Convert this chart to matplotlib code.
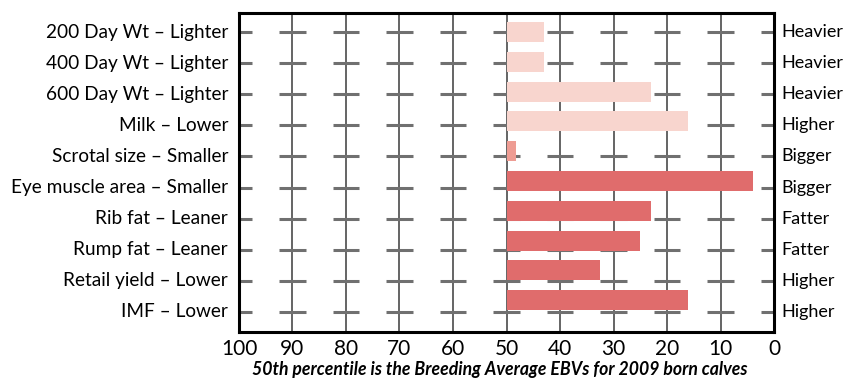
import matplotlib
matplotlib.use("Agg")
import matplotlib.pyplot as plt
import numpy as np

plt.rcParams['font.family'] = ['Lato', 'DejaVu Sans']

traits_left = ["200 Day Wt – Lighter", "400 Day Wt – Lighter", "600 Day Wt – Lighter",
               "Milk – Lower", "Scrotal size – Smaller", "Eye muscle area – Smaller",
               "Rib fat – Leaner", "Rump fat – Leaner", "Retail yield – Lower", "IMF – Lower"]
traits_right = ["Heavier", "Heavier", "Heavier", "Higher", "Bigger", "Bigger",
                "Fatter", "Fatter", "Higher", "Higher"]
percentile = [43, 43, 23, 16, 48.3, 4, 23, 25, 32.5, 16]
bar_colors = ["#F8D5CE", "#F8D5CE", "#F8D5CE", "#F8D5CE", "#EE9C93",
              "#E06C6C", "#E06C6C", "#E06C6C", "#E06C6C", "#E06C6C"]
xticks = [100, 90, 80, 70, 60, 50, 40, 30, 20, 10, 0]
baseline = 50
caption = "50th percentile is the Breeding Average EBVs for 2009 born calves"

W, H = 846, 381
fig = plt.figure(figsize=(W / 100, H / 100), dpi=100)
ax = fig.add_axes([239 / W, 1 - 332 / H, (774 - 239) / W, (332 - 13) / H])

n = len(traits_left)
rows = np.arange(n)
bar_pos = rows * (29.8 / 31.1)

ax.set_xlim(100, 0)
ax.set_ylim(9.646, -0.611)

# vertical gridlines
for v in xticks[1:-1]:
    ax.axvline(v, color="#3a3a3a", lw=1.1, zorder=1)

# short horizontal dashes at each gridline and row
for r in rows:
    for v in xticks:
        ax.plot([v - 2.5, v + 2.5], [r, r], color="#707070", lw=2.2,
                solid_capstyle="butt", zorder=2, clip_on=True)

# bars
ax.barh(bar_pos, np.array(percentile) - baseline, left=baseline, height=0.643,
        color=bar_colors, zorder=3)

for s in ax.spines.values():
    s.set_linewidth(2.2)
    s.set_color("black")
    s.set_zorder(5)

ax.set_yticks([])
ax.set_xticks(xticks)
ax.set_xticklabels([str(t) for t in xticks], fontsize=15)
ax.tick_params(axis="x", length=0, pad=5)

for r, lt, rt in zip(rows, traits_left, traits_right):
    ax.annotate(lt, xy=(0, r), xycoords=("axes fraction", "data"),
                xytext=(-11, 0), textcoords="offset pixels",
                ha="right", va="center", fontsize=13.7)
    ax.annotate(rt, xy=(1, r), xycoords=("axes fraction", "data"),
                xytext=(7, 0), textcoords="offset pixels",
                ha="left", va="center", fontsize=13)

fig.text(500 / W, 1 - 369 / H, caption, ha="center", va="center",
         fontsize=12.7, fontweight="bold", fontstyle="italic")

fig.savefig("out.png", dpi=100)
